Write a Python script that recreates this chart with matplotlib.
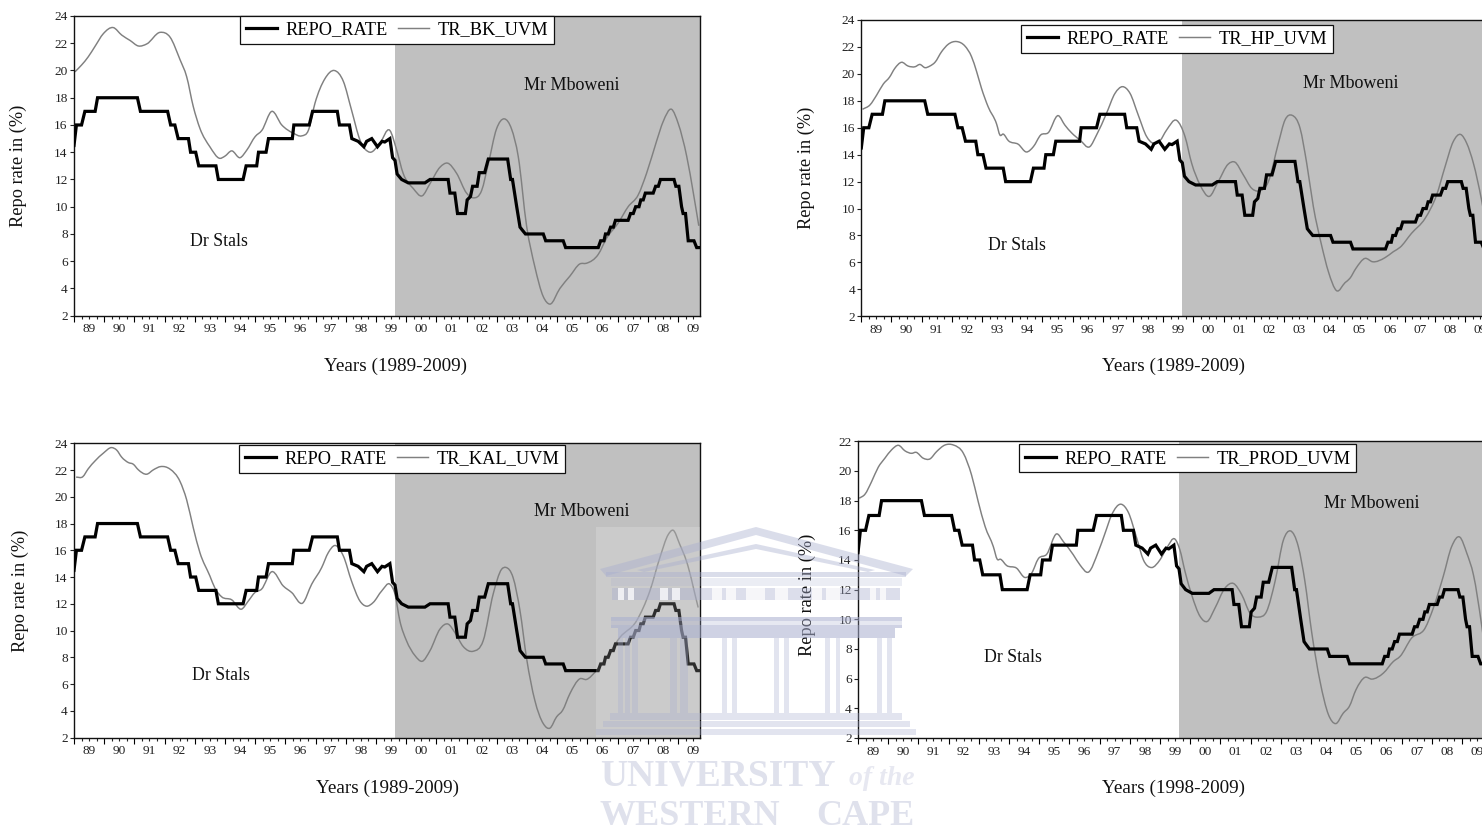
import matplotlib
matplotlib.use("Agg")
import matplotlib.pyplot as plt
import numpy as np
from matplotlib.lines import Line2D
from matplotlib.path import Path
from matplotlib.patches import Rectangle, Polygon, PathPatch

plt.rcParams['font.family'] = ['Liberation Serif', 'DejaVu Serif']

W, H = 1482, 832

repo_t = [1989.0,1989.08,1989.25,1989.36,1989.7,1989.78,1991.1,1991.2,1992.1,1992.2,1992.34,1992.45,1992.79,1992.86,1993.03,1993.13,1993.7,1993.78,1994.6,1994.7,1995.05,1995.11,1995.36,1995.44,1996.23,1996.28,1996.79,1996.9,1997.72,1997.79,1998.12,1998.2,1998.41,1998.6,1998.69,1998.86,1999.05,1999.2,1999.29,1999.46,1999.55,1999.63,1999.70,1999.85,2000.07,2000.62,2000.79,2001.39,2001.45,2001.61,2001.70,2001.96,2002.02,2002.13,2002.2,2002.35,2002.42,2002.6,2002.72,2003.36,2003.46,2003.52,2003.66,2003.77,2003.84,2003.95,2004.54,2004.62,2005.2,2005.28,2006.36,2006.44,2006.55,2006.6,2006.69,2006.77,2006.86,2006.93,2007.35,2007.43,2007.52,2007.6,2007.71,2007.77,2007.85,2007.92,2008.18,2008.26,2008.35,2008.42,2008.87,2008.93,2009.03,2009.12,2009.17,2009.25,2009.34,2009.53,2009.62,2009.7]
repo_v = [14.5,16,16,17,17,18,18,17,17,16,16,15,15,14,14,13,13,12,12,13,13,14,14,15,15,16,16,17,17,16,16,15,14.8,14.4,14.8,15,14.4,14.8,14.75,15,13.6,13.4,12.4,12.0,11.75,11.75,12,12,11,11,9.5,9.5,10.5,10.75,11.5,11.5,12.5,12.5,13.5,13.5,12,12,10,8.5,8.3,8,8,7.5,7.5,7,7,7.5,7.5,8,8,8.5,8.5,9,9,9.5,9.5,10,10,10.5,10.5,11,11,11.5,11.5,12,12,11.5,11.5,10,9.5,9.5,7.5,7.5,7,7]

bk_t = [1989.03,1989.25,1989.47,1989.69,1989.97,1990.3,1990.58,1990.86,1991.13,1991.41,1991.85,1992.18,1992.51,1992.73,1992.95,1993.17,1993.5,1993.83,1993.99,1994.22,1994.5,1994.72,1995.0,1995.22,1995.55,1995.88,1996.26,1996.54,1996.76,1996.98,1997.31,1997.62,1997.92,1998.19,1998.47,1998.8,1999.13,1999.46,1999.68,1999.9,2000.23,2000.53,2000.79,2001.12,2001.37,2001.67,2002.0,2002.22,2002.5,2002.72,2002.99,2003.25,2003.49,2003.71,2003.99,2004.26,2004.54,2004.76,2005.09,2005.42,2005.75,2005.97,2006.36,2006.64,2007.02,2007.35,2007.68,2007.96,2008.29,2008.51,2008.79,2009.01,2009.29,2009.51,2009.69]
bk_v = [19.9,20.4,21.0,21.75,22.7,23.15,22.6,22.2,21.8,21.95,22.8,22.45,20.8,19.55,17.35,15.75,14.4,13.55,13.7,14.1,13.6,14.15,15.15,15.6,17.0,16,15.4,15.2,15.6,17.6,19.4,20.0,19.2,17.1,14.9,14.0,14.65,15.6,14.2,12.45,11.35,10.8,11.7,12.9,13.2,12.45,11,10.65,11.2,13.15,15.7,16.45,15.7,13.7,8.55,5.6,3.4,2.85,4,4.9,5.8,5.85,6.5,7.7,8.8,10,10.85,12.45,14.8,16.25,17.15,16.1,13.7,11,8.6]

hp_t = [1989.04,1989.29,1989.51,1989.73,1989.93,1990.11,1990.33,1990.55,1990.78,1990.94,1991.11,1991.27,1991.44,1991.66,1991.88,1992.16,1992.43,1992.65,1992.82,1992.98,1993.2,1993.48,1993.59,1993.7,1993.87,1994.2,1994.47,1994.7,1994.94,1995.19,1995.52,1995.74,1995.96,1996.24,1996.57,1996.79,1997.12,1997.4,1997.65,1997.9,1998.17,1998.45,1998.67,1998.89,1999.11,1999.44,1999.72,1999.94,2000.22,2000.52,2000.82,2001.15,2001.37,2001.65,2001.93,2002.15,2002.48,2002.81,2003.03,2003.27,2003.53,2003.75,2003.97,2004.24,2004.47,2004.74,2005.02,2005.18,2005.38,2005.68,2005.93,2006.34,2006.62,2006.84,2007.22,2007.67,2008.05,2008.33,2008.6,2008.85,2009.05,2009.27,2009.54,2009.7]
hp_v = [17.37,17.7,18.43,19.25,19.74,20.41,20.86,20.58,20.53,20.7,20.46,20.58,20.86,21.65,22.2,22.4,22.07,21.28,20.16,18.93,17.56,16.28,15.46,15.53,15.04,14.77,14.2,14.6,15.46,15.63,16.9,16.2,15.63,15.09,14.6,15.46,17.07,18.55,19.05,18.55,16.95,15.34,14.84,15.04,15.83,16.55,15.34,13.36,11.75,10.9,12.0,13.3,13.45,12.5,11.5,11.3,12,14.84,16.57,16.92,15.96,13.36,10.14,7.3,5.3,3.9,4.5,4.82,5.56,6.3,6.05,6.35,6.8,7.12,8.16,9.27,11,13.1,14.96,15.5,14.84,13.36,10.63,8.65]

kal_t = [1989.07,1989.29,1989.47,1989.7,1989.97,1990.25,1990.41,1990.58,1990.8,1990.96,1991.13,1991.41,1991.63,1991.87,1992.18,1992.51,1992.73,1992.95,1993.17,1993.5,1993.67,1993.89,1994.22,1994.55,1994.77,1994.99,1995.21,1995.55,1995.93,1996.21,1996.57,1996.87,1997.2,1997.42,1997.64,1997.92,1998.19,1998.47,1998.69,1998.91,1999.19,1999.47,1999.63,1999.79,2000.01,2000.29,2000.53,2000.79,2001.12,2001.39,2001.61,2001.89,2002.22,2002.55,2002.88,2003.16,2003.3,2003.54,2003.77,2003.99,2004.26,2004.54,2004.76,2004.98,2005.18,2005.42,2005.75,2005.97,2006.3,2006.64,2007.08,2007.63,2008.07,2008.4,2008.68,2008.84,2009.06,2009.28,2009.67]
kal_v = [21.47,21.5,22.09,22.69,23.26,23.68,23.5,22.96,22.56,22.44,22.02,21.69,22.02,22.26,22.07,21.15,19.78,17.68,15.82,14.08,13.16,12.52,12.3,11.6,12.2,12.84,13.09,14.4,13.33,12.84,12.05,13.46,14.7,15.82,16.36,15.57,13.7,12.2,11.82,12.1,12.96,13.45,12.72,10.73,9.24,8.13,7.7,8.5,10.11,10.48,9.86,8.8,8.45,9.24,12.72,14.58,14.72,13.96,11.47,7.88,4.78,3.04,2.7,3.54,4.03,5.27,6.39,6.34,7.01,8,9.49,10.73,12.96,15.44,17.18,17.5,16.44,15.2,11.72]

prod_t = [1989.04,1989.23,1989.45,1989.67,1989.89,1990.11,1990.34,1990.56,1990.78,1990.92,1991.16,1991.38,1991.6,1991.88,1992.16,1992.49,1992.76,1992.98,1993.21,1993.48,1993.61,1993.72,1993.92,1994.25,1994.53,1994.75,1994.97,1995.25,1995.58,1995.8,1996.13,1996.35,1996.63,1996.96,1997.18,1997.4,1997.71,1997.95,1998.23,1998.45,1998.72,1999.0,1999.22,1999.5,1999.66,1999.83,2000.05,2000.33,2000.57,2000.82,2001.15,2001.43,2001.71,2001.98,2002.26,2002.53,2002.81,2003.09,2003.32,2003.58,2003.8,2004.02,2004.3,2004.58,2004.82,2005.07,2005.27,2005.49,2005.79,2006.01,2006.4,2006.73,2006.95,2007.33,2007.78,2008.05,2008.38,2008.66,2008.93,2009.16,2009.38,2009.65,2009.72]
prod_v = [18.16,18.43,19.28,20.25,20.86,21.42,21.73,21.35,21.19,21.26,20.86,20.81,21.3,21.75,21.75,21.19,19.73,17.94,16.25,14.91,14.05,14.05,13.63,13.45,12.82,13.11,14.08,14.39,15.76,15.24,14.35,13.67,13.18,14.57,15.8,17.04,17.76,17.22,15.47,14.01,13.49,14.01,14.79,15.4,14.68,13.22,11.65,10.19,9.86,10.75,12.1,12.42,11.65,10.42,10.15,10.53,12.55,15.36,15.96,14.91,12.55,9.18,5.82,3.57,2.97,3.68,4.13,5.25,6.09,5.97,6.38,7.16,7.5,8.73,9.41,10.75,12.89,14.91,15.54,14.46,13,9.63,8.6]

year_labels = ['89','90','91','92','93','94','95','96','97','98','99','00','01','02','03','04','05','06','07','08','09']
first_year = 1989
x_end = 2009.73
mboweni_start = 1999.63

panels = [
    dict(box=(74, 16, 700, 315.7), ymax=24, t=bk_t, v=bk_v, name='TR_BK_UVM',
         leg=(397, 30), ylab=(18, 166), xlab=(395, 366), title='Years (1989-2009)',
         stals=(218.5, 240), mb=(572, 84)),
    dict(box=(861.3, 20, 1487.3, 316.3), ymax=24, t=hp_t, v=hp_v, name='TR_HP_UVM',
         leg=(1177, 38.5), ylab=(806, 168), xlab=(1174, 366), title='Years (1989-2009)',
         stals=(1016.7, 245), mb=(1350.7, 83)),
    dict(box=(74, 443.3, 700, 737.5), ymax=24, t=kal_t, v=kal_v, name='TR_KAL_UVM',
         leg=(402, 459), ylab=(20, 591), xlab=(388, 788), title='Years (1989-2009)',
         stals=(221, 675), mb=(581.7, 511)),
    dict(box=(858, 441.3, 1484, 738), ymax=22, t=prod_t, v=prod_v, name='TR_PROD_UVM',
         leg=(1187.7, 458.5), ylab=(807, 594.5), xlab=(1173, 788), title='Years (1998-2009)',
         stals=(1013, 656), mb=(1371.7, 502)),
]

fig = plt.figure(figsize=(W/100, H/100), dpi=100, facecolor='white')

def fx(x): return x / W
def fy(y): return 1 - y / H

def smooth_path(t, v):
    """Bezier path through the read points, so the trend lines render round."""
    t, v = np.asarray(t, float), np.asarray(v, float)
    m = np.gradient(v, t)
    verts = [(t[0], v[0])]
    codes = [Path.MOVETO]
    for i in range(len(t) - 1):
        h = (t[i+1] - t[i]) / 3
        verts += [(t[i] + h, v[i] + m[i] * h), (t[i+1] - h, v[i+1] - m[i+1] * h), (t[i+1], v[i+1])]
        codes += [Path.CURVE4] * 3
    return Path(verts, codes)

for p in panels:
    l, t, r, b = p['box']
    ax = fig.add_axes([fx(l), fy(b), (r-l)/W, (b-t)/H])
    ax.axvspan(mboweni_start, x_end, color='#c0c0c0', lw=0, zorder=0)
    l1, = ax.plot(repo_t, repo_v, color='black', lw=2.3, solid_joinstyle='miter', label='REPO_RATE', zorder=3)
    ax.add_patch(PathPatch(smooth_path(p['t'], p['v']), fill=False, edgecolor='#808080', lw=1.05, zorder=2))
    l2 = Line2D([], [], color='#808080', lw=1.05, label=p['name'])
    ax.set_xlim(first_year, x_end)
    ax.set_ylim(2, p['ymax'])
    ax.set_yticks(np.arange(2, p['ymax']+1, 2))
    years = first_year + np.arange(len(year_labels))
    ax.set_xticks(years, labels=[''] * len(years))
    quarters = first_year + np.arange(1, 4*len(year_labels)) * 0.25
    quarters = [q for q in quarters if q <= x_end and q % 1 != 0]
    ax.set_xticks(quarters, minor=True,
                  labels=[year_labels[int(q - first_year)] if q % 1 == 0.5 else '' for q in quarters])
    ax.tick_params(axis='x', which='major', direction='out', length=4, width=0.8)
    ax.tick_params(axis='x', which='minor', direction='out', length=2.5, width=0.8,
                   labelsize=9.6, pad=3, colors='#222222')
    ax.tick_params(axis='y', direction='out', length=3, width=0.8, labelsize=9.6, pad=1.5, colors='#222222')
    for s in ax.spines.values():
        s.set_linewidth(1.0)
        s.set_color('#111111')
    leg = ax.legend(handles=[l1, l2], ncol=2, loc='center',
                    bbox_to_anchor=(fx(p['leg'][0]), fy(p['leg'][1])),
                    bbox_transform=fig.transFigure, fancybox=False, framealpha=1,
                    edgecolor='#111111', facecolor='white', fontsize=13.2,
                    handlelength=1.7, handletextpad=0.45, columnspacing=0.6,
                    borderpad=0.3, borderaxespad=0, labelspacing=0)
    leg.get_frame().set_linewidth(0.9)
    leg.set_zorder(6)
    fig.text(fx(p['ylab'][0]), fy(p['ylab'][1]), 'Repo rate in (%)', rotation=90,
             ha='center', va='center', fontsize=13.2, color='#111111')
    fig.text(fx(p['xlab'][0]), fy(p['xlab'][1]), p['title'], ha='center', va='center',
             fontsize=13.8, color='#111111')
    fig.text(fx(p['stals'][0]), fy(p['stals'][1] + 1), 'Dr Stals', ha='center', va='center',
             fontsize=12.8, color='#111111')
    fig.text(fx(p['mb'][0]), fy(p['mb'][1] + 1), 'Mr Mboweni', ha='center', va='center',
             fontsize=13, color='#111111', zorder=7)

# University watermark, a pale overlay in pixel coordinates
wm = '#a8aecf'
def rect(x0, y0, x1, y1, color=wm, alpha=0.42):
    fig.add_artist(Rectangle((fx(x0), fy(y1)), (x1-x0)/W, (y1-y0)/H, transform=fig.transFigure,
                             facecolor=color, edgecolor='none', alpha=alpha, zorder=5))
def poly(pts, color=wm, alpha=0.42):
    fig.add_artist(Polygon([(fx(x), fy(y)) for x, y in pts], closed=True, transform=fig.transFigure,
                           facecolor=color, edgecolor='none', alpha=alpha, zorder=5))

rect(596, 527, 700, 737, color='white', alpha=0.18)
poly([(600,569),(756,527),(913,569),(906,576),(756,535),(606,576)])
poly([(637,570),(756,544),(875,570),(868,572),(756,549),(644,572)])
rect(606, 572, 906, 577)
rect(611, 578, 902, 586, alpha=0.22)
rect(612, 588, 900, 600, alpha=0.4)
for x0, x1 in [(618,624),(628,634),(660,668),(672,680),(712,722),(726,736),(746,765),(775,788),(812,822),(826,840),(870,876),(880,886)]:
    rect(x0, 588, x1, 600, color='white', alpha=0.75)
rect(611, 617, 902, 621, alpha=0.55)
rect(611, 621, 902, 625, alpha=0.28)
rect(611, 625, 902, 628, alpha=0.55)
rect(618, 628, 895, 638, alpha=0.55)
for x0, x1 in [(618,623),(625,630),(632,638),(670,677),(680,688),(722,727),(732,737),(774,779),(784,789),(825,830),(836,840),(877,882),(887,892)]:
    rect(x0, 638, x1, 713, alpha=0.33)
rect(610, 713, 902, 720, alpha=0.33)
rect(603, 721, 910, 727, alpha=0.33)
rect(596, 729, 916, 735, alpha=0.33)

fig.text(fx(600), fy(785), 'UNIVERSITY', ha='left', va='baseline', fontsize=27,
         fontweight='bold', color='#dfe1ec', zorder=5)
fig.text(fx(915), fy(785), 'of the', ha='right', va='baseline', fontsize=20,
         fontweight='bold', style='italic', color='#e7e8f1', zorder=5)
fig.text(fx(600), fy(825), 'WESTERN', ha='left', va='baseline', fontsize=26,
         fontweight='bold', color='#dfe1ec', zorder=5)
fig.text(fx(915), fy(825), 'CAPE', ha='right', va='baseline', fontsize=26,
         fontweight='bold', color='#dfe1ec', zorder=5)

fig.savefig('out.png', dpi=100, facecolor='white')
